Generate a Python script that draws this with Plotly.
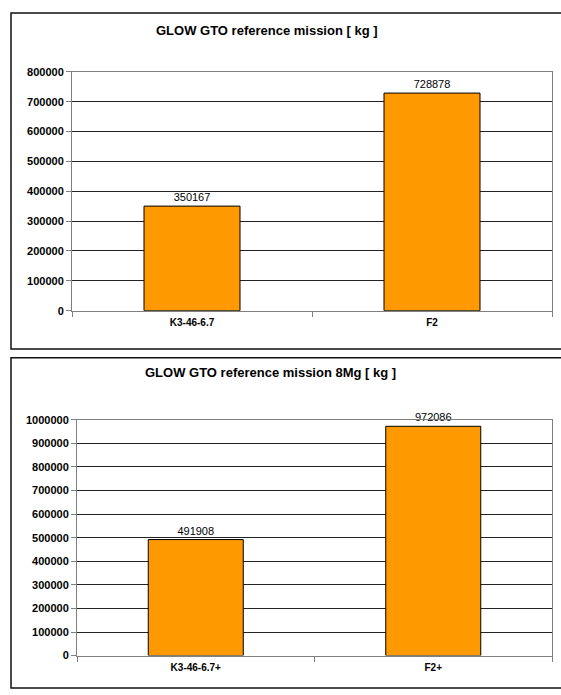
import plotly.graph_objects as go

# Lift-off mass for the GTO reference missions
categories_ref = ["K3-46-6.7", "F2"]
glow_ref = [350167, 728878]

categories_8mg = ["K3-46-6.7+", "F2+"]
glow_8mg = [491908, 972086]

title_ref = "GLOW GTO reference mission [ kg ]"
title_8mg = "GLOW GTO reference mission 8Mg [ kg ]"

W, H = 561, 695
FONT = "Liberation Sans, Arial, sans-serif"
BAR = "#FF9900"


def px_x(x):
    return x / W


def px_y(y):
    return 1 - y / H


fig = go.Figure()

fig.add_trace(go.Bar(
    x=categories_ref, y=glow_ref,
    text=[str(v) for v in glow_ref], textposition="outside",
    textfont=dict(family=FONT, size=11, color="#000000"),
    marker=dict(color=BAR, line=dict(color="#000000", width=1)),
    cliponaxis=False, xaxis="x", yaxis="y", showlegend=False,
))
fig.add_trace(go.Bar(
    x=categories_8mg, y=glow_8mg,
    text=[str(v) for v in glow_8mg], textposition="outside",
    textfont=dict(family=FONT, size=11, color="#000000"),
    marker=dict(color=BAR, line=dict(color="#000000", width=1)),
    cliponaxis=False, xaxis="x2", yaxis="y2", showlegend=False,
))

xcommon = dict(
    showline=True, linecolor="#808080", linewidth=1, mirror=True,
    ticks="outside", tickson="boundaries", ticklen=5, tickcolor="#808080",
    showgrid=False, zeroline=False,
    tickfont=dict(family=FONT, size=10, color="#000000", weight="bold"),
    ticklabelstandoff=2,
)
ycommon = dict(
    showline=True, linecolor="#808080", linewidth=1, mirror=True,
    ticks="outside", ticklen=5, tickcolor="#808080",
    showgrid=True, gridcolor="#222222", gridwidth=1, zeroline=False,
    tickformat="d", dtick=100000,
    tickfont=dict(family=FONT, size=11, color="#000000", weight="bold"),
)

fig.update_layout(
    width=W, height=H,
    margin=dict(l=0, r=0, t=0, b=0),
    paper_bgcolor="white", plot_bgcolor="white",
    bargap=0.6,
    xaxis=dict(domain=[px_x(72), px_x(552)], anchor="y", **xcommon),
    yaxis=dict(domain=[px_y(310), px_y(67)], anchor="x",
               range=[0, 800000], **ycommon),
    xaxis2=dict(domain=[px_x(77), px_x(552)], anchor="y2", **xcommon),
    yaxis2=dict(domain=[px_y(661), px_y(421)], anchor="x2",
                range=[0, 1000000], **ycommon),
    annotations=[
        dict(text=title_ref, x=px_x(267), y=px_y(25), xref="paper", yref="paper",
             showarrow=False, xanchor="center", yanchor="middle",
             font=dict(family=FONT, size=13, color="#000000", weight="bold")),
        dict(text=title_8mg, x=px_x(270), y=px_y(373), xref="paper", yref="paper",
             showarrow=False, xanchor="center", yanchor="middle",
             font=dict(family=FONT, size=13, color="#000000", weight="bold")),
    ],
    shapes=[
        dict(type="rect", xref="paper", yref="paper",
             x0=px_x(11), x1=1.05, y0=px_y(349), y1=px_y(7),
             line=dict(color="#111111", width=1.5), fillcolor="rgba(0,0,0,0)"),
        dict(type="rect", xref="paper", yref="paper",
             x0=px_x(11), x1=1.05, y0=px_y(694), y1=px_y(358),
             line=dict(color="#111111", width=1.5), fillcolor="rgba(0,0,0,0)"),
    ],
)

fig.write_html("out.html")
